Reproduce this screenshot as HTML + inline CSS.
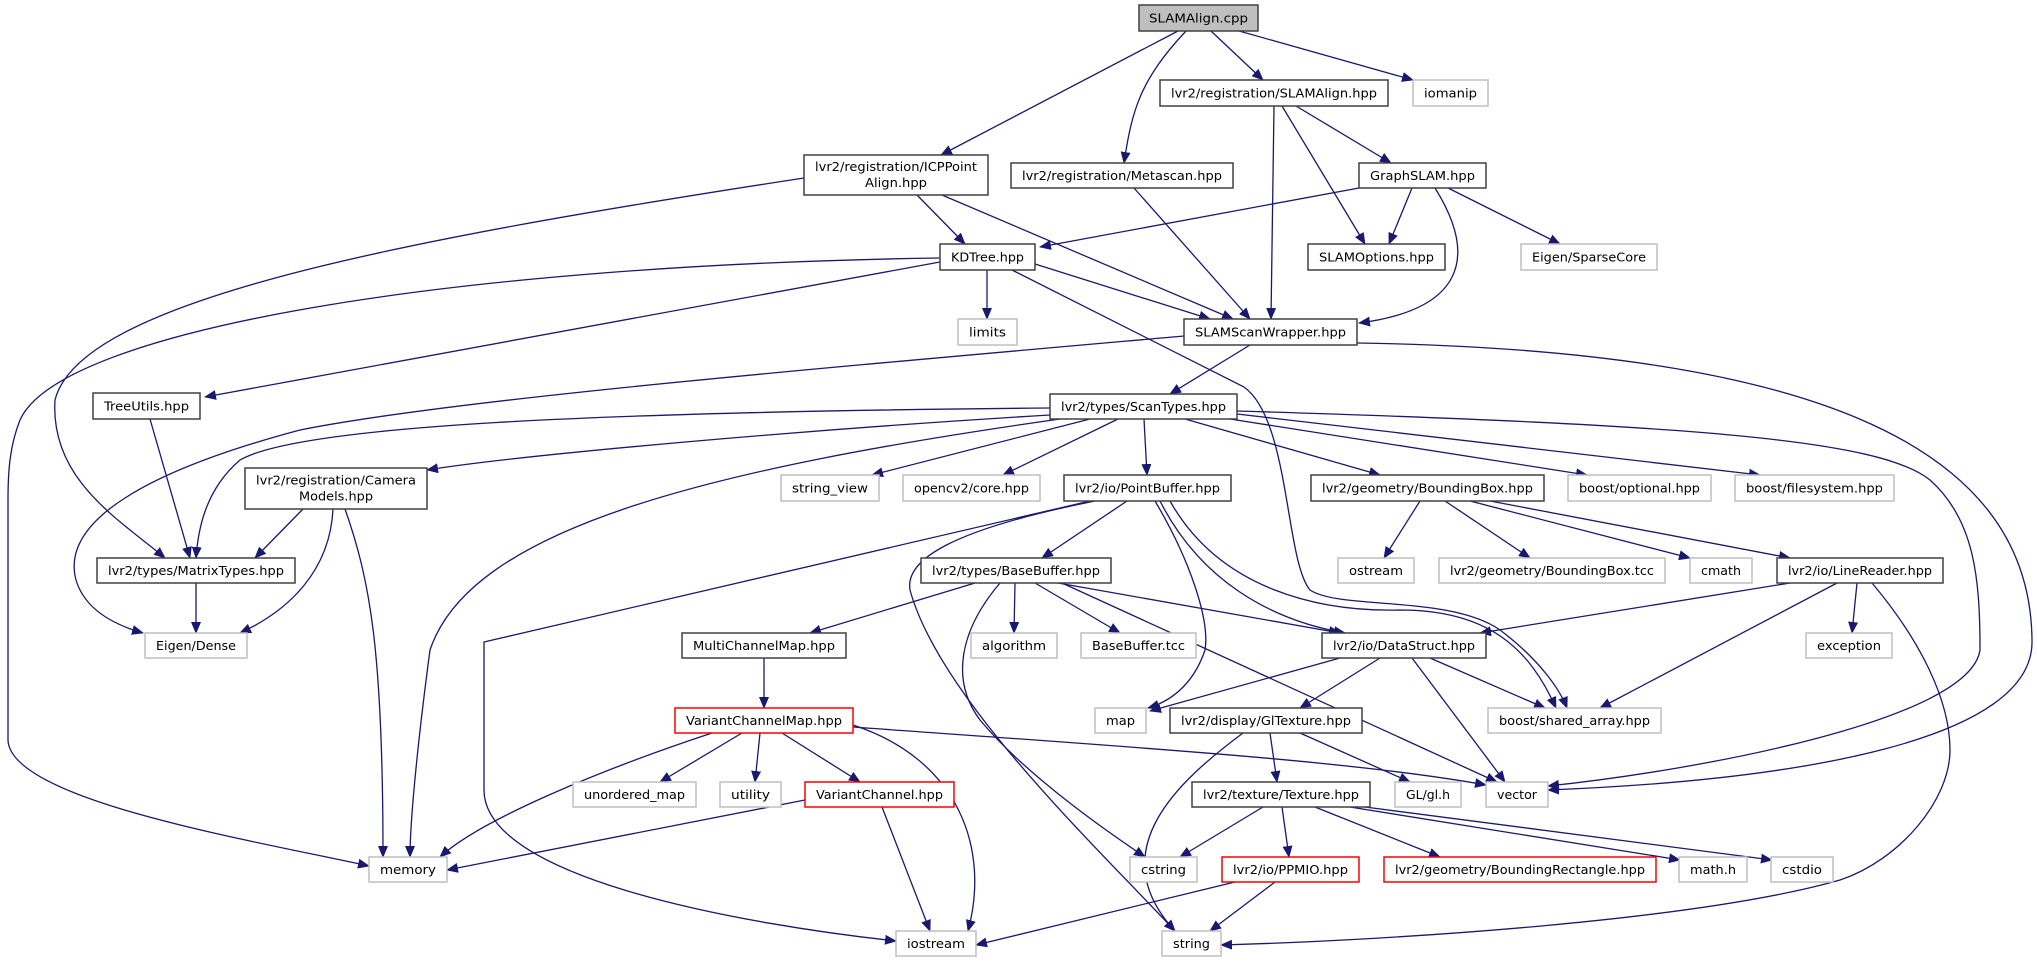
<!DOCTYPE html>
<html><head><meta charset="utf-8"><style>
html,body{margin:0;padding:0;background:#fff;}
svg{display:block;}
text{font-family:"DejaVu Sans","Liberation Sans",sans-serif;font-size:12.5px;fill:#000;}
.e{fill:none;stroke:#191970;stroke-width:1.3;marker-end:url(#ah);}
.b{fill:#fff;stroke:#404040;stroke-width:1.5;}
.g{fill:#fff;stroke:#bfbfbf;stroke-width:1.5;}
.r{fill:#fff;stroke:#ff0000;stroke-width:1.5;}
</style></head><body>
<svg width="2037" height="963" viewBox="0 0 2037 963" xmlns="http://www.w3.org/2000/svg">
<defs><marker id="ah" markerUnits="userSpaceOnUse" markerWidth="12" markerHeight="10" refX="11" refY="5" orient="auto"><path d="M0,0 L12,5 L0,10 z" fill="#191970"/></marker></defs>
<g>
<path class="e" d="M1178,31 L941,155"/>
<path class="e" d="M1186,31 C1140,80 1132,110 1124,163"/>
<path class="e" d="M1211,31 L1263,80"/>
<path class="e" d="M1239,31 L1413,80"/>
<path class="e" d="M1274,106 L1271,319"/>
<path class="e" d="M1282,106 L1365,244"/>
<path class="e" d="M1296,106 L1391,163"/>
<path class="e" d="M804,178 C400,240 80,300 55,400 C50,480 120,520 165,558"/>
<path class="e" d="M917,195 L965,244"/>
<path class="e" d="M942,195 L1233,319"/>
<path class="e" d="M1134,188 L1250,319"/>
<path class="e" d="M1359,188 L1040,247"/>
<path class="e" d="M1412,188 L1389,244"/>
<path class="e" d="M1435,188 C1480,260 1460,310 1359,323"/>
<path class="e" d="M1448,188 L1560,244"/>
<path class="e" d="M940,258 C450,265 60,330 20,420 C10,445 8,470 8,500 L8,740 C10,800 250,840 369,866"/>
<path class="e" d="M940,262 L205,397"/>
<path class="e" d="M987,270 L987,319"/>
<path class="e" d="M1035,264 L1210,319"/>
<path class="e" d="M1012,270 L1244,387 C1290,420 1285,560 1310,590 C1340,610 1450,595 1500,630 C1540,660 1560,690 1567,708"/>
<path class="e" d="M1250,345 L1170,394"/>
<path class="e" d="M1184,336 C800,370 450,400 300,430 C150,470 60,520 76,580 C85,610 115,625 143,633"/>
<path class="e" d="M1357,343 C1800,350 2030,440 2032,640 C2035,740 1800,780 1548,790"/>
<path class="e" d="M150,419 L190,558"/>
<path class="e" d="M1050,408 C600,412 300,425 240,460 C205,490 198,530 196,558"/>
<path class="e" d="M1050,415 C800,430 520,455 427,470"/>
<path class="e" d="M1060,419 C700,470 470,530 430,650 C418,740 410,820 410,857"/>
<path class="e" d="M1090,419 L872,475"/>
<path class="e" d="M1118,419 L1003,475"/>
<path class="e" d="M1144,419 L1147,475"/>
<path class="e" d="M1185,419 L1380,475"/>
<path class="e" d="M1230,419 L1587,475"/>
<path class="e" d="M1237,414 L1760,475"/>
<path class="e" d="M1237,411 C1700,425 1880,440 1930,480 C1975,520 1980,580 1980,650 C1970,720 1700,770 1548,786"/>
<path class="e" d="M303,509 L255,558"/>
<path class="e" d="M333,509 C330,570 290,610 240,633"/>
<path class="e" d="M345,509 C370,580 383,650 383,857"/>
<path class="e" d="M1127,501 L1042,558"/>
<path class="e" d="M1090,501 L484,642 L484,790 C484,880 750,925 896,941"/>
<path class="e" d="M1095,501 C950,530 905,560 910,590 C940,700 1100,850 1175,931"/>
<path class="e" d="M1155,501 C1190,560 1210,620 1205,650 C1195,680 1175,700 1148,708"/>
<path class="e" d="M1160,501 C1200,580 1270,620 1345,633"/>
<path class="e" d="M1170,501 C1220,590 1320,612 1400,610 C1490,610 1530,650 1556,708"/>
<path class="e" d="M1420,501 L1384,558"/>
<path class="e" d="M1445,501 L1530,558"/>
<path class="e" d="M1470,501 L1690,558"/>
<path class="e" d="M1490,501 L1790,558"/>
<path class="e" d="M196,583 L196,633"/>
<path class="e" d="M975,583 L810,633"/>
<path class="e" d="M1015,583 L1014,633"/>
<path class="e" d="M1035,583 L1120,633"/>
<path class="e" d="M1058,583 L1340,633"/>
<path class="e" d="M1000,583 C960,630 950,680 980,720 C1030,780 1120,840 1145,857"/>
<path class="e" d="M1062,583 L1497,782"/>
<path class="e" d="M1790,583 L1480,633"/>
<path class="e" d="M1837,583 L1600,708"/>
<path class="e" d="M1857,583 L1852,633"/>
<path class="e" d="M1872,583 C1920,640 1950,700 1950,750 C1950,800 1900,860 1840,880 C1700,920 1400,940 1221,945"/>
<path class="e" d="M764,658 L764,708"/>
<path class="e" d="M1340,658 L1150,711"/>
<path class="e" d="M1380,658 L1300,708"/>
<path class="e" d="M1430,658 L1545,708"/>
<path class="e" d="M1412,658 L1505,782"/>
<path class="e" d="M742,733 L660,782"/>
<path class="e" d="M760,733 L755,782"/>
<path class="e" d="M782,733 L860,782"/>
<path class="e" d="M712,733 C600,770 480,820 440,857"/>
<path class="e" d="M853,725 C960,760 990,850 968,931"/>
<path class="e" d="M853,727 C1100,745 1350,760 1486,785"/>
<path class="e" d="M1270,733 L1277,782"/>
<path class="e" d="M1300,733 L1410,782"/>
<path class="e" d="M1243,733 C1180,780 1100,850 1175,931"/>
<path class="e" d="M805,800 L447,870"/>
<path class="e" d="M882,807 L930,931"/>
<path class="e" d="M1263,807 L1180,857"/>
<path class="e" d="M1282,807 L1289,857"/>
<path class="e" d="M1315,807 L1440,857"/>
<path class="e" d="M1350,807 L1680,860"/>
<path class="e" d="M1365,807 L1772,860"/>
<path class="e" d="M1235,882 L976,945"/>
<path class="e" d="M1275,882 L1210,931"/>
</g>
<g>
<rect x="1139" y="5" width="119" height="26" fill="#bfbfbf" stroke="#404040" stroke-width="1.5"/><text x="1198.5" y="22.5" text-anchor="middle" textLength="99" lengthAdjust="spacingAndGlyphs">SLAMAlign.cpp</text>

<rect class="b" x="1160" y="80" width="228" height="26"/><text x="1274" y="97.5" text-anchor="middle" textLength="206" lengthAdjust="spacingAndGlyphs">lvr2/registration/SLAMAlign.hpp</text>
<rect class="g" x="1413" y="80" width="75" height="26"/><text x="1450.5" y="97.5" text-anchor="middle" textLength="53" lengthAdjust="spacingAndGlyphs">iomanip</text>

<rect class="b" x="804" y="155" width="184" height="40"/><text x="896" y="171" text-anchor="middle" textLength="162" lengthAdjust="spacingAndGlyphs">lvr2/registration/ICPPoint</text><text x="896" y="187" text-anchor="middle" textLength="62" lengthAdjust="spacingAndGlyphs">Align.hpp</text>
<rect class="b" x="1011" y="163" width="222" height="25"/><text x="1122" y="180" text-anchor="middle" textLength="200" lengthAdjust="spacingAndGlyphs">lvr2/registration/Metascan.hpp</text>
<rect class="b" x="1359" y="163" width="127" height="25"/><text x="1422.5" y="180" text-anchor="middle" textLength="105" lengthAdjust="spacingAndGlyphs">GraphSLAM.hpp</text>

<rect class="b" x="940" y="244" width="95" height="26"/><text x="987.5" y="261.5" text-anchor="middle" textLength="73" lengthAdjust="spacingAndGlyphs">KDTree.hpp</text>
<rect class="b" x="1308" y="244" width="137" height="26"/><text x="1376.5" y="261.5" text-anchor="middle" textLength="115" lengthAdjust="spacingAndGlyphs">SLAMOptions.hpp</text>
<rect class="g" x="1521" y="244" width="136" height="26"/><text x="1589" y="261.5" text-anchor="middle" textLength="114" lengthAdjust="spacingAndGlyphs">Eigen/SparseCore</text>

<rect class="g" x="958" y="319" width="59" height="26"/><text x="987.5" y="336.5" text-anchor="middle" textLength="37" lengthAdjust="spacingAndGlyphs">limits</text>
<rect class="b" x="1184" y="319" width="173" height="26"/><text x="1270.5" y="336.5" text-anchor="middle" textLength="151" lengthAdjust="spacingAndGlyphs">SLAMScanWrapper.hpp</text>

<rect class="b" x="93" y="393" width="107" height="26"/><text x="146.5" y="410.5" text-anchor="middle" textLength="85" lengthAdjust="spacingAndGlyphs">TreeUtils.hpp</text>
<rect class="b" x="1050" y="394" width="187" height="25"/><text x="1143.5" y="411" text-anchor="middle" textLength="165" lengthAdjust="spacingAndGlyphs">lvr2/types/ScanTypes.hpp</text>

<rect class="b" x="245" y="468" width="182" height="41"/><text x="336" y="484.5" text-anchor="middle" textLength="160" lengthAdjust="spacingAndGlyphs">lvr2/registration/Camera</text><text x="336" y="500.5" text-anchor="middle" textLength="74" lengthAdjust="spacingAndGlyphs">Models.hpp</text>
<rect class="g" x="781" y="475" width="98" height="26"/><text x="830" y="492.5" text-anchor="middle" textLength="76" lengthAdjust="spacingAndGlyphs">string_view</text>
<rect class="g" x="903" y="475" width="137" height="26"/><text x="971.5" y="492.5" text-anchor="middle" textLength="115" lengthAdjust="spacingAndGlyphs">opencv2/core.hpp</text>
<rect class="b" x="1064" y="475" width="167" height="26"/><text x="1147.5" y="492.5" text-anchor="middle" textLength="145" lengthAdjust="spacingAndGlyphs">lvr2/io/PointBuffer.hpp</text>
<rect class="b" x="1311" y="475" width="233" height="26"/><text x="1427.5" y="492.5" text-anchor="middle" textLength="211" lengthAdjust="spacingAndGlyphs">lvr2/geometry/BoundingBox.hpp</text>
<rect class="g" x="1568" y="475" width="143" height="26"/><text x="1639.5" y="492.5" text-anchor="middle" textLength="121" lengthAdjust="spacingAndGlyphs">boost/optional.hpp</text>
<rect class="g" x="1735" y="475" width="159" height="26"/><text x="1814.5" y="492.5" text-anchor="middle" textLength="137" lengthAdjust="spacingAndGlyphs">boost/filesystem.hpp</text>

<rect class="b" x="97" y="558" width="198" height="25"/><text x="196" y="575" text-anchor="middle" textLength="176" lengthAdjust="spacingAndGlyphs">lvr2/types/MatrixTypes.hpp</text>
<rect class="b" x="921" y="558" width="190" height="25"/><text x="1016" y="575" text-anchor="middle" textLength="168" lengthAdjust="spacingAndGlyphs">lvr2/types/BaseBuffer.hpp</text>
<rect class="g" x="1338" y="558" width="76" height="25"/><text x="1376" y="575" text-anchor="middle" textLength="54" lengthAdjust="spacingAndGlyphs">ostream</text>
<rect class="g" x="1439" y="558" width="226" height="25"/><text x="1552" y="575" text-anchor="middle" textLength="204" lengthAdjust="spacingAndGlyphs">lvr2/geometry/BoundingBox.tcc</text>
<rect class="g" x="1690" y="558" width="62" height="25"/><text x="1721" y="575" text-anchor="middle" textLength="40" lengthAdjust="spacingAndGlyphs">cmath</text>
<rect class="b" x="1777" y="558" width="166" height="25"/><text x="1860" y="575" text-anchor="middle" textLength="144" lengthAdjust="spacingAndGlyphs">lvr2/io/LineReader.hpp</text>

<rect class="g" x="145" y="633" width="102" height="25"/><text x="196" y="650" text-anchor="middle" textLength="80" lengthAdjust="spacingAndGlyphs">Eigen/Dense</text>
<rect class="b" x="682" y="633" width="164" height="25"/><text x="764" y="650" text-anchor="middle" textLength="142" lengthAdjust="spacingAndGlyphs">MultiChannelMap.hpp</text>
<rect class="g" x="971" y="633" width="86" height="25"/><text x="1014" y="650" text-anchor="middle" textLength="64" lengthAdjust="spacingAndGlyphs">algorithm</text>
<rect class="g" x="1081" y="633" width="115" height="25"/><text x="1138.5" y="650" text-anchor="middle" textLength="93" lengthAdjust="spacingAndGlyphs">BaseBuffer.tcc</text>
<rect class="b" x="1322" y="633" width="164" height="25"/><text x="1404" y="650" text-anchor="middle" textLength="142" lengthAdjust="spacingAndGlyphs">lvr2/io/DataStruct.hpp</text>
<rect class="g" x="1806" y="633" width="86" height="25"/><text x="1849" y="650" text-anchor="middle" textLength="64" lengthAdjust="spacingAndGlyphs">exception</text>

<rect class="r" x="675" y="708" width="178" height="25"/><text x="764" y="725" text-anchor="middle" textLength="156" lengthAdjust="spacingAndGlyphs">VariantChannelMap.hpp</text>
<rect class="g" x="1095" y="708" width="51" height="25"/><text x="1120.5" y="725" text-anchor="middle" textLength="29" lengthAdjust="spacingAndGlyphs">map</text>
<rect class="b" x="1170" y="708" width="192" height="25"/><text x="1266" y="725" text-anchor="middle" textLength="170" lengthAdjust="spacingAndGlyphs">lvr2/display/GlTexture.hpp</text>
<rect class="g" x="1488" y="708" width="173" height="25"/><text x="1574.5" y="725" text-anchor="middle" textLength="151" lengthAdjust="spacingAndGlyphs">boost/shared_array.hpp</text>

<rect class="g" x="573" y="782" width="123" height="25"/><text x="634.5" y="799" text-anchor="middle" textLength="101" lengthAdjust="spacingAndGlyphs">unordered_map</text>
<rect class="g" x="720" y="782" width="61" height="25"/><text x="750.5" y="799" text-anchor="middle" textLength="39" lengthAdjust="spacingAndGlyphs">utility</text>
<rect class="r" x="805" y="782" width="149" height="25"/><text x="879.5" y="799" text-anchor="middle" textLength="127" lengthAdjust="spacingAndGlyphs">VariantChannel.hpp</text>
<rect class="b" x="1192" y="782" width="178" height="25"/><text x="1281" y="799" text-anchor="middle" textLength="156" lengthAdjust="spacingAndGlyphs">lvr2/texture/Texture.hpp</text>
<rect class="g" x="1395" y="782" width="66" height="25"/><text x="1428" y="799" text-anchor="middle" textLength="44" lengthAdjust="spacingAndGlyphs">GL/gl.h</text>
<rect class="g" x="1486" y="782" width="62" height="25"/><text x="1517" y="799" text-anchor="middle" textLength="40" lengthAdjust="spacingAndGlyphs">vector</text>

<rect class="g" x="369" y="857" width="78" height="25"/><text x="408" y="874" text-anchor="middle" textLength="56" lengthAdjust="spacingAndGlyphs">memory</text>
<rect class="g" x="1130" y="857" width="67" height="25"/><text x="1163.5" y="874" text-anchor="middle" textLength="45" lengthAdjust="spacingAndGlyphs">cstring</text>
<rect class="r" x="1222" y="857" width="137" height="25"/><text x="1290.5" y="874" text-anchor="middle" textLength="115" lengthAdjust="spacingAndGlyphs">lvr2/io/PPMIO.hpp</text>
<rect class="r" x="1384" y="857" width="272" height="25"/><text x="1520" y="874" text-anchor="middle" textLength="250" lengthAdjust="spacingAndGlyphs">lvr2/geometry/BoundingRectangle.hpp</text>
<rect class="g" x="1679" y="857" width="68" height="25"/><text x="1713" y="874" text-anchor="middle" textLength="46" lengthAdjust="spacingAndGlyphs">math.h</text>
<rect class="g" x="1771" y="857" width="62" height="25"/><text x="1802" y="874" text-anchor="middle" textLength="40" lengthAdjust="spacingAndGlyphs">cstdio</text>

<rect class="g" x="896" y="931" width="80" height="25"/><text x="936" y="948" text-anchor="middle" textLength="58" lengthAdjust="spacingAndGlyphs">iostream</text>
<rect class="g" x="1162" y="931" width="59" height="25"/><text x="1191.5" y="948" text-anchor="middle" textLength="37" lengthAdjust="spacingAndGlyphs">string</text>
</g>
</svg>
</body></html>
